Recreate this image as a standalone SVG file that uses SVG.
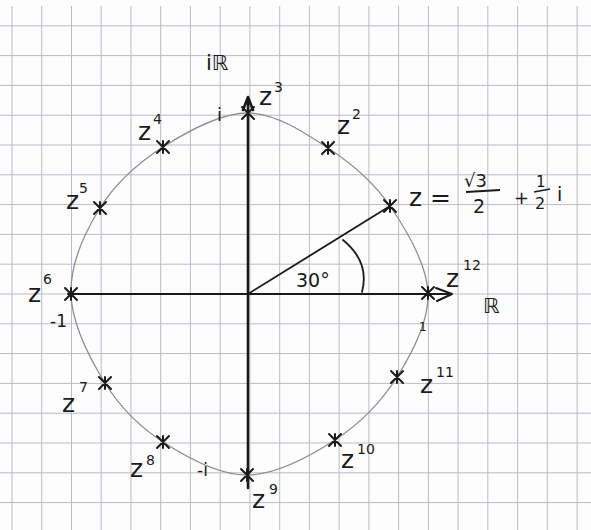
<svg xmlns="http://www.w3.org/2000/svg" width="591" height="530" viewBox="0 0 591 530">
<style>
.grid line{stroke:#b9bcc6;stroke-width:1}
.ink{fill:none;stroke:#1a1a1a;stroke-linecap:round;stroke-linejoin:round}
.cross{fill:none;stroke:#1a1a1a;stroke-width:2;stroke-linecap:round}
.t{font-family:"DejaVu Sans","Liberation Sans",sans-serif;fill:#1a1a1a}
.z{font-size:25px}
.s{font-size:14px}
</style>
<defs>
<path id="x" d="M-6,-6 L6,6 M6,-6 L-6,6 M0,-6 L0,6"/>
</defs>
<rect width="591" height="530" fill="#fdfdfd"/>
<g class="grid">
<line x1="12" y1="6" x2="12" y2="530"/><line x1="41.7" y1="6" x2="41.7" y2="530"/><line x1="71.5" y1="6" x2="71.5" y2="530"/><line x1="101.2" y1="6" x2="101.2" y2="530"/><line x1="131" y1="6" x2="131" y2="530"/><line x1="160.7" y1="6" x2="160.7" y2="530"/><line x1="190.4" y1="6" x2="190.4" y2="530"/><line x1="220.2" y1="6" x2="220.2" y2="530"/><line x1="249.9" y1="6" x2="249.9" y2="530"/><line x1="279.7" y1="6" x2="279.7" y2="530"/><line x1="309.4" y1="6" x2="309.4" y2="530"/><line x1="339.1" y1="6" x2="339.1" y2="530"/><line x1="368.9" y1="6" x2="368.9" y2="530"/><line x1="398.6" y1="6" x2="398.6" y2="530"/><line x1="428.4" y1="6" x2="428.4" y2="530"/><line x1="458.1" y1="6" x2="458.1" y2="530"/><line x1="487.8" y1="6" x2="487.8" y2="530"/><line x1="517.6" y1="6" x2="517.6" y2="530"/><line x1="547.3" y1="6" x2="547.3" y2="530"/><line x1="577.1" y1="6" x2="577.1" y2="530"/>
<line x1="0" y1="25.8" x2="591" y2="25.8"/><line x1="0" y1="55.6" x2="591" y2="55.6"/><line x1="0" y1="85.4" x2="591" y2="85.4"/><line x1="0" y1="115.2" x2="591" y2="115.2"/><line x1="0" y1="145" x2="591" y2="145"/><line x1="0" y1="174.8" x2="591" y2="174.8"/><line x1="0" y1="204.6" x2="591" y2="204.6"/><line x1="0" y1="234.4" x2="591" y2="234.4"/><line x1="0" y1="264.2" x2="591" y2="264.2"/><line x1="0" y1="294" x2="591" y2="294"/><line x1="0" y1="323.8" x2="591" y2="323.8"/><line x1="0" y1="353.6" x2="591" y2="353.6"/><line x1="0" y1="383.4" x2="591" y2="383.4"/><line x1="0" y1="413.2" x2="591" y2="413.2"/><line x1="0" y1="443" x2="591" y2="443"/><line x1="0" y1="472.8" x2="591" y2="472.8"/><line x1="0" y1="502.6" x2="591" y2="502.6"/>
</g>
<g id="connectors">
<path id="unit-circle" d="M428,293 C426.8,264.5 406.7,230.2 390,206 C373.3,181.8 351.7,163.5 328,148 C304.3,132.5 275.5,113.2 248,113 C220.5,112.8 187.7,131.2 163,147 C138.3,162.8 115.3,183.5 100,208 C84.7,232.5 70.2,264.8 71,294 C71.8,323.2 89.7,358.3 105,383 C120.3,407.7 139.3,426.7 163,442 C186.7,457.3 218.3,475.3 247,475 C275.7,474.7 310,456.3 335,440 C360,423.7 381.5,401.5 397,377 C412.5,352.5 429.2,321.5 428,293 Z" fill="none" stroke="#8c8c8c" stroke-width="1.3"/>
<path id="real-axis" class="ink" stroke-width="2" d="M68,294 L452,294 M436,288 L452,294 L437,301"/>
<path id="imag-axis" class="ink" stroke-width="2.6" d="M248,488 L248,98 M243,110 L248,97 L253,110"/>
<path id="radius" class="ink" stroke-width="1.8" d="M248,294 L390,206"/>
<path id="angle-arc" class="ink" stroke-width="1.8" d="M343,240 Q370,262 362,292"/>
</g>
<g id="label-iR"><text class="t" x="206" y="70" font-size="21">iℝ</text></g>
<g id="label-R"><text class="t" x="483" y="313" font-size="21">ℝ</text></g>
<g id="label-30"><text class="t" x="296" y="287" font-size="19">30°</text></g>
<g id="z1"><use href="#x" class="cross" x="390" y="206"/>
<text class="t z" x="409" y="206">z =</text>
<text class="t" x="464" y="187" font-size="18">√3</text>
<line x1="466" y1="192" x2="500" y2="190" stroke="#1a1a1a" stroke-width="1.8"/>
<text class="t" x="473" y="213" font-size="19">2</text>
<text class="t" x="514" y="204" font-size="18">+</text>
<text class="t" x="536" y="187" font-size="15">1</text>
<line x1="534" y1="192" x2="550" y2="189" stroke="#1a1a1a" stroke-width="1.6"/>
<text class="t" x="535" y="209" font-size="16">2</text>
<text class="t" x="557" y="201" font-size="19">i</text></g>
<g id="z2"><use href="#x" class="cross" x="328" y="148"/><text class="t z" x="337" y="134">z</text><text class="t s" x="352" y="119">2</text></g>
<g id="z3"><use href="#x" class="cross" x="248" y="113"/><text class="t z" x="259" y="105">z</text><text class="t s" x="274" y="92">3</text><text class="t" x="217" y="121" font-size="18">i</text></g>
<g id="z4"><use href="#x" class="cross" x="163" y="147"/><text class="t z" x="138" y="140">z</text><text class="t s" x="153" y="124">4</text></g>
<g id="z5"><use href="#x" class="cross" x="100" y="208"/><text class="t z" x="66" y="209">z</text><text class="t s" x="79" y="193">5</text></g>
<g id="z6"><use href="#x" class="cross" x="71" y="294"/><text class="t z" x="28" y="302">z</text><text class="t s" x="43" y="284">6</text><text class="t" x="50" y="327" font-size="17">-1</text></g>
<g id="z7"><use href="#x" class="cross" x="105" y="383"/><text class="t z" x="62" y="412">z</text><text class="t s" x="79" y="392">7</text></g>
<g id="z8"><use href="#x" class="cross" x="163" y="442"/><text class="t z" x="130" y="477">z</text><text class="t s" x="146" y="465">8</text><text class="t" x="197" y="476" font-size="17">-i</text></g>
<g id="z9"><use href="#x" class="cross" x="247" y="475"/><text class="t z" x="252" y="508">z</text><text class="t s" x="269" y="494">9</text></g>
<g id="z10"><use href="#x" class="cross" x="335" y="440"/><text class="t z" x="341" y="468">z</text><text class="t s" x="357" y="454">10</text></g>
<g id="z11"><use href="#x" class="cross" x="397" y="377"/><text class="t z" x="420" y="393">z</text><text class="t s" x="436" y="377">11</text></g>
<g id="z12"><use href="#x" class="cross" x="428" y="293"/><text class="t z" x="446" y="287">z</text><text class="t s" x="463" y="270">12</text><text class="t" x="419" y="331" font-size="12">1</text></g>
</svg>
